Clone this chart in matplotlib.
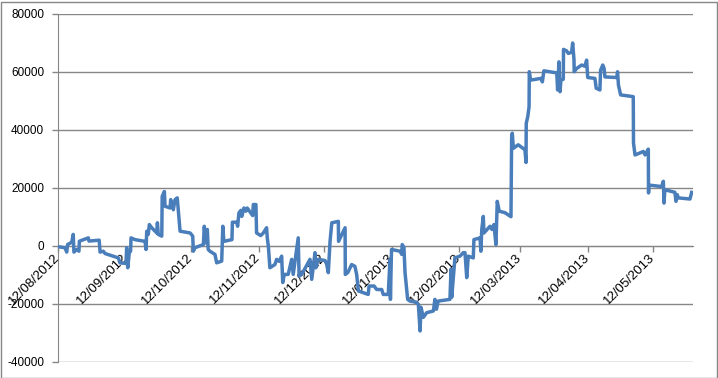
"""
Cumulative P&L line chart, Excel look (date axis crossing at zero).
"""
from datetime import datetime, timedelta

import matplotlib
matplotlib.use('Agg')
import matplotlib.pyplot as plt
from matplotlib.patches import Rectangle

# Data: days since 12/08/2012 and running value
start_date = datetime(2012, 8, 12)

day_offsets = [
    0.5, 3.2, 4.0, 4.4, 6.3, 7.0, 7.3, 8.6, 9.6, 9.8,
    13.9, 14.2, 18.9, 19.3, 20.8, 21.6, 27.7, 28.4, 31.2, 31.5,
    32.0, 32.7, 33.3, 33.5, 35.3, 39.9, 40.4, 40.7, 41.4, 41.9,
    43.0, 45.3, 45.6, 46.0, 47.6, 47.8, 48.8, 49.1, 51.4, 51.7,
    52.9, 53.7, 54.7, 55.2, 56.0, 60.6, 61.8, 62.1, 62.8, 66.7,
    67.1, 67.8, 68.5, 68.9, 69.7, 72.0, 72.8, 75.1, 75.6, 76.1,
    79.8, 80.0, 82.0, 82.4, 83.0, 83.9, 84.3, 85.3, 86.2, 86.8,
    89.3, 89.6, 90.8, 91.1, 93.0, 94.2, 95.7, 96.0, 96.5, 97.2,
    99.5, 100.3, 101.5, 102.6, 103.1, 103.8, 105.6, 107.2, 107.9, 110.2,
    110.6, 111.8, 115.6, 116.4, 117.9, 118.3, 119.3, 122.5, 123.3, 124.0,
    124.8, 125.6, 128.6, 128.7, 131.7, 131.8, 133.0, 134.7, 136.2, 137.0,
    137.8, 142.3, 142.7, 145.0, 146.2, 148.5, 149.2, 151.5, 152.3, 152.5,
    153.0, 156.9, 157.7, 157.9, 158.7, 159.2, 160.4, 161.5, 164.5, 165.3,
    166.1, 166.5, 167.6, 169.1, 172.2, 172.9, 173.6, 174.4, 179.8, 180.3,
    180.6, 181.3, 182.1, 184.4, 185.9, 186.7, 187.5, 188.2, 190.5, 190.8,
    193.6, 194.0, 194.4, 195.1, 195.4, 198.2, 199.1, 200.0, 200.9, 201.5,
    202.4, 205.0, 207.8, 208.1, 208.4, 208.9, 211.1, 214.2, 214.7, 214.8,
    215.5, 216.1, 216.2, 216.8, 221.6, 222.2, 222.9, 228.8, 229.2, 229.8,
    230.3, 230.7, 231.8, 231.9, 233.3, 234.1, 235.6, 236.1, 236.7, 236.8,
    237.9, 240.2, 241.7, 242.5, 243.0, 246.3, 246.9, 248.6, 248.9, 249.9,
    250.5, 250.9, 256.3, 256.7, 257.1, 258.1, 263.9, 264.0, 264.7, 267.0,
    268.5, 269.3, 270.8, 270.9, 271.1, 276.9, 277.7, 278.0, 278.4, 283.0,
    283.5, 284.1, 284.5, 289.9, 290.7,
]

pnl = [
    -300, -600, -2100, 500, 1300, 4000, -2100, -1200, -1800, 1650,
    2800, 1700, 2000, -2100, -1800, -2600, -4100, -5800, -6000, -600,
    -7500, -2300, -1800, 2800, 2200, 1600, -1200, 5100, 4000, 7400,
    6300, 4500, 8000, 4000, 3400, 17100, 18800, 13700, 13100, 16000,
    12500, 16000, 16600, 12000, 5100, 4500, 3400, -1800, -600, 500,
    6800, 1100, 5700, -1200, -1800, -2900, -5800, -5200, 6800, 1600,
    2200, 8200, 8200, 6800, 11400, 12300, 10200, 13100, 12000, 13100,
    10500, 14300, 14300, 4500, 3600, 4500, 6300, 2800, -100, -7500,
    -6400, -4600, -5300, -3500, -12600, -9800, -9800, -4600, -9800, 2800,
    -10400, -9800, -4600, -11500, -2300, -7500, -4600, -5000, -6400, -9200,
    1600, 8000, 8500, 1600, 6300, -9800, -9100, -6400, -7000, -9800,
    -15500, -16700, -13800, -13800, -15000, -15000, -16700, -16700, -4600, -18400,
    -1200, -1800, -2900, 500, -500, -9200, -18400, -19000, -19400, -20100,
    -29300, -21100, -24600, -23000, -22400, -18400, -21800, -19000, -18400, -8100,
    -17700, -11500, -4100, -3500, -2300, -2300, -10900, -3500, -4100, 2200,
    2800, -1800, 5700, 10200, 4500, 6800, 5700, 7400, 500, 15400,
    12000, 11500, 10100, 37200, 38900, 33700, 34900, 33200, 28800, 42300,
    44600, 48000, 60100, 57200, 57800, 56600, 60400, 59700, 53800, 63500,
    53200, 57200, 57500, 67800, 67300, 66400, 66800, 70000, 64300, 60100,
    61200, 62400, 62000, 64100, 58100, 57800, 54400, 53800, 60600, 62400,
    61300, 58300, 58100, 60100, 55500, 52100, 51500, 35500, 31400, 32100,
    32600, 31400, 33400, 18300, 21000, 20500, 22300, 14800, 19400, 18500,
    15400, 17700, 16600, 16200, 18500,
]

tick_dates = [datetime(2012, m, 12) for m in range(8, 13)] + \
             [datetime(2013, m, 12) for m in range(1, 6)]
tick_labels = [d.strftime('%d/%m/%Y') for d in tick_dates]
y_ticks = [-40000, -20000, 0, 20000, 40000, 60000, 80000]

# Style
axis_gray = '#868686'
line_blue = '#4A7EBB'
plt.rcParams['font.family'] = ['Liberation Sans', 'DejaVu Sans']
plt.rcParams['axes.unicode_minus'] = False

dates = [start_date + timedelta(days=d) for d in day_offsets]

fig = plt.figure(figsize=(7.18, 3.78), dpi=100)
ax = fig.add_axes([58 / 718, 1 - 362 / 378, 635 / 718, 348 / 378])

ax.plot(dates, pnl, color=line_blue, linewidth=2.5, solid_joinstyle='round', zorder=3)

ax.set_ylim(-40000, 80000)
ax.set_xlim(start_date, start_date + timedelta(days=291.3))

# Spines: x axis crosses at zero
ax.spines['top'].set_visible(False)
ax.spines['right'].set_visible(False)
ax.spines['bottom'].set_position(('data', 0))
ax.spines['bottom'].set_color(axis_gray)
ax.spines['left'].set_color(axis_gray)
ax.tick_params(axis='x', direction='out', length=4, width=1, color=axis_gray, pad=3)
ax.tick_params(axis='y', direction='out', length=4, width=1, color=axis_gray, pad=6)

ax.set_yticks(y_ticks)
ax.set_yticklabels([str(v) for v in y_ticks], fontsize=8.5)
ax.yaxis.grid(True, color=axis_gray, linewidth=1.0)
ax.set_axisbelow(True)

# Rotated date labels hanging below the zero line
ax.set_xticks(tick_dates)
ax.set_xticklabels(tick_labels, fontsize=9.5)
for lbl in ax.xaxis.get_majorticklabels():
    lbl.set_rotation(45)
    lbl.set_rotation_mode('anchor')
    lbl.set_horizontalalignment('right')
    lbl.set_verticalalignment('center')

# Chart area border
fig.add_artist(Rectangle((0.5 / 718, 0.5 / 378), 716 / 718, 376 / 378,
                         transform=fig.transFigure, fill=False,
                         edgecolor=axis_gray, linewidth=1.0))

fig.savefig('out.png', dpi=100)
plt.close(fig)
